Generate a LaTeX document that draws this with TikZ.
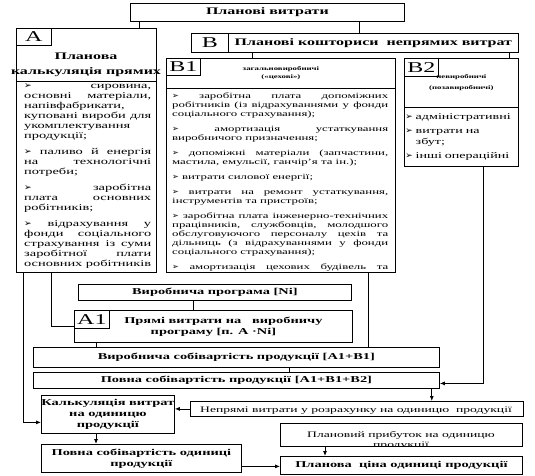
\documentclass[tikz,border=0pt]{standalone}
\usepackage{fontspec}
\setmainfont{Liberation Serif}[FakeStretch=1.6]
\newfontfamily\arrowfont{DejaVu Sans}
\usetikzlibrary{arrows.meta}

\newcommand{\pnt}{{\arrowfont ➢}\ }
\newcommand{\nextpt}{\par\vspace{6pt}}
\newcommand{\fHead}{\bfseries\fontsize{10}{12}\selectfont}
\newcommand{\fMid}{\bfseries\fontsize{9}{11}\selectfont}
\newcommand{\fTag}{\fontsize{15}{15}\selectfont}

\tikzset{
  box/.style={draw, line width=0.8pt, inner sep=1pt, anchor=north west, align=center},
  tag/.style={box, font=\fTag},
  ln/.style={line width=0.8pt},
  arr/.style={ln, ->},
  listA/.style={inner sep=0pt, anchor=north west, text width=127pt, align=justify,
    font=\fontsize{9}{10}\selectfont},
  listB/.style={inner sep=0pt, anchor=north west, text width=216pt, align=justify,
    font=\fontsize{8}{9}\selectfont},
}

\begin{document}
\begin{tikzpicture}[x=1pt,y=-1pt,>={Latex[length=5pt,width=4pt]}]
  \useasboundingbox (0,0) rectangle (535,476);

  % top
  \node[box, font=\fHead, minimum width=274pt, minimum height=18pt] (plan) at (130,3) {Планові витрати};

  % A: direct costs
  \node[box, minimum width=140pt, minimum height=53pt] (Ahead) at (16,28) {};
  \node[tag, minimum width=35pt, minimum height=17pt] (Atag) at (16,28) {А};
  \node[font=\fHead, align=center, inner sep=0pt] (Atitle) at (86,65) {Планова\\[3pt]калькуляція прямих};
  \node[box, minimum width=140pt, minimum height=191pt] (Alist) at (16,81) {};
  \begin{scope}
    \clip (16,81) rectangle (156,272);
    \node[listA] (Atext) at (24,84) {\pnt сировина, основні матеріали, напівфабрикати, куповані вироби для укомплектування продукції;\nextpt
      \pnt паливо й енергія на технологічні потреби;\nextpt
      \pnt заробітна плата основних робітників;\nextpt
      \pnt відрахування у фонди соціального страхування із суми заробітної плати основних робітників};
  \end{scope}

  % B: indirect costs
  \node[box, font=\fHead, minimum width=290pt, minimum height=19pt] (Bhead) at (228,33) {Планові кошториси \ непрямих витрат};
  \node[tag, minimum width=37pt, minimum height=19pt] (Btag) at (191,33) {В};

  % B1
  \node[box, minimum width=229pt, minimum height=30pt, font=\bfseries\fontsize{5.5}{8}\selectfont] (B1head) at (166,58) {загальновиробничі\\(«цехові»)};
  \node[tag, minimum width=34pt, minimum height=17pt] (B1tag) at (166,58) {В1};
  \node[box, minimum width=229pt, minimum height=184pt] (B1list) at (166,88) {};
  \begin{scope}
    \clip (166,88) rectangle (395,272);
    \node[listB] (B1text) at (172,93) {\pnt заробітна плата допоміжних робітників (із відрахуваннями у фонди соціального страхування);\nextpt
      \pnt амортизація устаткування виробничого призначення;\nextpt
      \pnt допоміжні матеріали (запчастини, мастила, емульсії, ганчір’я та ін.);\nextpt
      \pnt витрати силової енергії;\nextpt
      \pnt витрати на ремонт устаткування, інструментів та пристроїв;\nextpt
      \pnt заробітна плата інженерно-технічних працівників, службовців, молодшого обслуговуючого персоналу цехів та дільниць (з відрахуваннями у фонди соціального страхування);\nextpt
      \pnt амортизація цехових будівель та споруд};
  \end{scope}

  % B2
  \node[box, minimum width=114pt, minimum height=49pt, font=\bfseries\fontsize{5.5}{8}\selectfont] (B2head) at (404,58) {невиробничі\\[3pt](позавиробничі)};
  \node[tag, minimum width=34pt, minimum height=18pt] (B2tag) at (404,58) {В2};
  \node[box, minimum width=114pt, minimum height=59pt, align=left, text width=112pt,
    font=\fontsize{8.8}{11}\selectfont] (B2list) at (404,107)
    {\pnt адміністративні\\[3pt]\pnt витрати на\\\phantom{\pnt}збут;\\[3pt]\pnt інші операційні};

  % middle
  \node[box, font=\fMid, minimum width=273pt, minimum height=16pt] (prog) at (78,284) {Виробнича програма [Ni]};
  \node[box, font=\fMid, minimum width=278pt, minimum height=32pt] (A1) at (74,310) {\hspace{20pt}Прямі витрати на \ \ виробничу\\програму [п. А ·Ni]};
  \node[tag, minimum width=35pt, minimum height=18pt] (A1tag) at (74,310) {А1};
  \node[box, font=\fMid, minimum width=406pt, minimum height=20pt] (vs) at (33,347) {Виробнича собівартість продукції [А1+В1]};
  \node[box, font=\fMid, minimum width=406pt, minimum height=16pt] (ps) at (33,372) {Повна собівартість продукції [А1+В1+В2]};

  % bottom
  \node[box, font=\fMid, minimum width=131pt, minimum height=38pt, inner sep=0pt] (kalk) at (41,395) {Калькуляція витрат\\на одиницю\\продукції};
  \node[box, minimum width=333pt, minimum height=15pt] (nepr) at (190,401) {};
  \begin{scope}
    \clip (190,401) rectangle (523,416);
    \node[font=\fontsize{8.5}{10}\selectfont, inner sep=0pt] (neprtext) at (356,411) {Непрямі витрати у розрахунку на одиницю \ продукції};
  \end{scope}
  \node[box, minimum width=242pt, minimum height=23pt] (prib) at (280,423) {};
  \begin{scope}
    \clip (280,423) rectangle (522,446);
    \node[font=\fontsize{8.5}{10}\selectfont, align=center, inner sep=0pt] (pribtext) at (401,440) {Плановий прибуток на одиницю\\продукції};
  \end{scope}
  \node[box, font=\fMid, minimum width=200pt, minimum height=28pt, inner sep=0pt] (povod) at (41,444) {Повна собівартість одиниці\\продукції};
  \node[box, font=\fMid, minimum width=242pt, minimum height=18pt] (tsina) at (280,456) {Планова \ ціна одиниці продукції};

  % connectors
  \draw[ln] ([xshift=9pt]plan.south west) -- ([xshift=9pt]plan.south west |- Ahead.north);
  \draw[ln] ([xshift=-45pt]plan.south east) -- ([xshift=-45pt]plan.south east |- Bhead.north);
  \draw[ln] ([xshift=24pt]Bhead.south west) -- ([xshift=24pt]Bhead.south west |- B1head.north);
  \draw[ln] ([xshift=-9pt]Bhead.south east) -- ([xshift=-9pt]Bhead.south east |- B2head.north);
  \draw[arr] ([xshift=7pt]Alist.south west) |- ([yshift=-8pt]kalk.west);
  \draw[ln] ([xshift=35pt]Alist.south west) |- ([yshift=-7pt]A1tag.west);
  \draw[ln] ([xshift=-22pt]prog.south) -- ([xshift=-22pt]prog.south |- A1.north);
  \draw[ln] ([xshift=22pt]A1.south west) -- ([xshift=22pt]A1.south west |- vs.north);
  \draw[ln] ([xshift=-27pt]B1list.south east) -- ([xshift=-27pt]B1list.south east |- vs.north);
  \draw[ln] ([xshift=53pt]vs.south) -- ([xshift=53pt]vs.south |- ps.north);
  \draw[arr] ([xshift=-35pt]B2list.south east) |- ([yshift=-3pt]ps.east);
  \draw[arr] ([xshift=-8pt]ps.south east) -- ([xshift=-8pt]ps.south east |- nepr.north);
  \draw[arr] (nepr.west) -- (nepr.west -| kalk.east);
  \draw[arr] ([xshift=55pt]kalk.south west) -- ([xshift=55pt]kalk.south west |- povod.north);
  \draw[arr] ([yshift=-8pt]povod.east) -- ([yshift=-8pt]povod.east -| tsina.west);
  \draw[arr] ([xshift=45pt]prib.south west) -- ([xshift=45pt]prib.south west |- tsina.north);
\end{tikzpicture}
\end{document}
